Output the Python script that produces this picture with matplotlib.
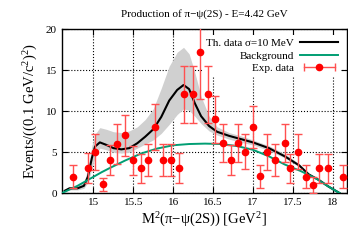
import matplotlib
matplotlib.use('Agg')
import matplotlib.pyplot as plt
from matplotlib.lines import Line2D
from matplotlib.legend_handler import HandlerLine2D, HandlerTuple

plt.rcParams['font.family'] = ['Liberation Serif', 'DejaVu Serif']
plt.rcParams['mathtext.fontset'] = 'custom'
plt.rcParams['mathtext.rm'] = 'Liberation Serif'
plt.rcParams['mathtext.it'] = 'Liberation Serif:italic'

# experimental points
exp_x = [14.745, 14.93, 15.02, 15.12, 15.21, 15.30, 15.40, 15.49, 15.59, 15.68,
         15.77, 15.87, 15.97, 16.07, 16.14, 16.245, 16.34, 16.44, 16.52, 16.62,
         16.72, 16.81, 16.90, 16.995, 17.09, 17.18, 17.28, 17.40, 17.47, 17.57,
         17.66, 17.76, 17.83, 17.94, 18.13]
exp_y = [2.0, 3.05, 5.0, 1.1, 4.05, 6.0, 7.05, 4.0, 3.05, 4.05,
         8.05, 4.05, 4.05, 3.05, 12.05, 12.05, 17.25, 12.05, 9.0, 6.1,
         4.05, 6.1, 5.05, 8.1, 2.05, 5.05, 4.05, 6.1, 3.05, 5.05,
         2.0, 1.0, 3.05, 3.05, 2.0]
exp_err = [1.4, 1.85, 2.2, 0.8, 1.85, 2.4, 2.55, 1.8, 1.75, 1.9,
           2.8, 1.9, 2.0, 1.8, 3.45, 3.45, 5.7, 3.5, 2.9, 2.35,
           1.85, 2.35, 2.15, 2.6, 1.4, 2.2, 1.9, 2.35, 1.75, 2.15,
           1.4, 1.0, 1.75, 1.75, 1.4]

# theory curve and its band
th_x = [14.64, 14.7, 14.8, 14.88, 14.93, 14.98, 15.02, 15.08, 15.16, 15.25,
        15.35, 15.45, 15.55, 15.65, 15.75, 15.85, 15.95, 16.05, 16.13, 16.2,
        16.27, 16.35, 16.45, 16.55, 16.7, 16.85, 17.0, 17.2, 17.4, 17.58,
        17.7, 17.83, 17.95, 18.09]
th_y = [0.3, 0.6, 0.6, 0.9, 2.0, 4.3, 5.7, 6.2, 5.9, 5.5,
        5.35, 5.5, 6.1, 6.9, 7.8, 9.3, 11.3, 12.6, 13.2, 12.7,
        11.0, 9.4, 8.2, 7.5, 7.0, 6.6, 6.2, 5.5, 4.5, 3.4,
        2.3, 1.6, 0.8, 0.0]
th_hi = [0.4, 0.8, 0.9, 1.3, 3.0, 5.8, 7.2, 8.0, 7.8, 7.5,
         7.4, 7.6, 8.1, 9.0, 10.3, 12.8, 15.5, 17.2, 17.8, 17.0,
         14.8, 11.8, 9.4, 8.1, 7.4, 7.0, 6.5, 5.8, 4.8, 3.6,
         2.4, 1.6, 0.8, 0.0]
th_lo = [0.2, 0.4, 0.4, 0.6, 1.3, 3.0, 4.4, 5.5, 5.3, 5.0,
         4.9, 5.0, 5.5, 6.0, 6.5, 7.3, 8.4, 9.6, 10.3, 10.1,
         9.4, 8.5, 7.6, 7.1, 6.6, 6.2, 5.9, 5.2, 4.3, 3.2,
         2.2, 1.6, 0.8, 0.0]

# background
bg_x = [14.6, 14.7, 14.8, 14.9, 15.0, 15.1, 15.2, 15.4, 15.6, 15.8, 16.0,
        16.2, 16.4, 16.6, 16.8, 17.0, 17.2, 17.4, 17.6, 17.8, 17.95, 18.09]
bg_y = [0.0, 0.45, 0.9, 1.45, 2.0, 2.55, 3.05, 4.0, 4.85, 5.45, 5.85,
        6.0, 6.05, 6.0, 5.75, 5.3, 4.5, 3.5, 2.7, 1.75, 0.8, 0.0]

fig = plt.figure(figsize=(3.48, 2.4), dpi=100)
ax = fig.add_axes([0.177, 0.195, 0.820, 0.683])

ax.fill_between(th_x, th_lo, th_hi, color='#d0d0d0', lw=0, zorder=2)
ax.plot(th_x, th_y, color='black', lw=1.5, zorder=3)
ax.plot(bg_x, bg_y, color='#009e73', lw=1.4, zorder=3)
ax.errorbar(exp_x, exp_y, yerr=exp_err, fmt='none', ecolor='#ff5050',
            elinewidth=1.0, capsize=3, capthick=1.0, zorder=4)
ax.plot(exp_x, exp_y, 'o', color='red', ms=4.5, zorder=5)

ax.set_xlim(14.6, 18.18)
ax.set_ylim(0, 20)
ax.set_xticks([15, 15.5, 16, 16.5, 17, 17.5, 18])
ax.set_xticklabels(['15', '15.5', '16', '16.5', '17', '17.5', '18'])
ax.set_yticks([0, 5, 10, 15, 20])
ax.tick_params(direction='in', top=True, right=True, labelsize=8, length=4, width=0.8)
ax.grid(True, color='black', linestyle=':', linewidth=0.8)
ax.set_axisbelow(True)
for s in ax.spines.values():
    s.set_linewidth(1.0)

ax.set_title('Production of π−ψ(2S) - E=4.42 GeV', fontsize=8, pad=9)
ax.set_xlabel(r'M$^{2}$(π−ψ(2S)) [GeV$^{2}$]', fontsize=10.5, labelpad=3)
ax.set_ylabel(r'Events/((0.1 GeV/c$^{2}$)$^{2}$)', fontsize=10.5, labelpad=4)

h_th = Line2D([], [], color='black', lw=1.5)
h_bg = Line2D([], [], color='#009e73', lw=1.4)
h_caps = Line2D([], [], color='#ff5050', lw=1.0, marker='|', ms=6, mew=1.0)
h_dot = Line2D([], [], color='red', lw=0, marker='o', ms=4.5)
h_exp = (h_caps, h_dot)
leg = ax.legend([h_th, h_bg, h_exp], ['Th. data σ=10 MeV', 'Background', 'Exp. data'],
                loc='upper right', fontsize=8, markerfirst=False, frameon=True,
                facecolor='white', edgecolor='none', framealpha=1, fancybox=False,
                handlelength=3.4, labelspacing=0.25, borderpad=0.3,
                borderaxespad=0.5, handletextpad=0.6,
                handler_map={h_caps: HandlerLine2D(numpoints=2),
                             tuple: HandlerTuple(ndivide=1, pad=0)})
leg.set_zorder(1)

fig.savefig('out.png', dpi=100)
